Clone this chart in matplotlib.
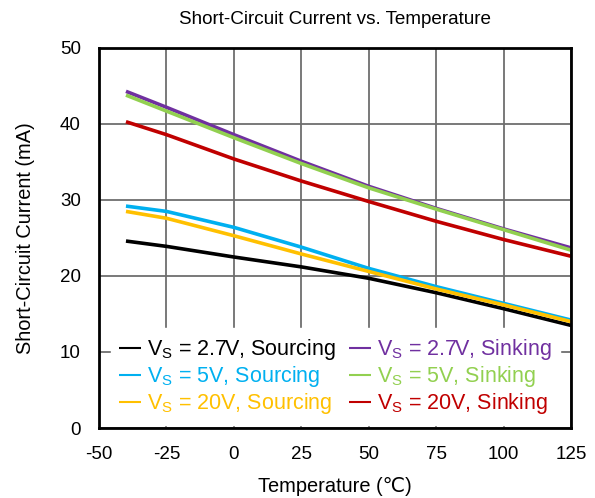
import matplotlib.pyplot as plt
import numpy as np

plt.rcParams['font.family'] = ['Liberation Sans', 'DejaVu Sans']
plt.rcParams['mathtext.default'] = 'regular'
plt.rcParams['axes.unicode_minus'] = False

temp = [-40, -25, 0, 25, 50, 75, 100, 125]

src_27 = [24.6, 23.9, 22.5, 21.2, 19.7, 17.8, 15.7, 13.5]
src_5 = [29.2, 28.5, 26.4, 23.8, 21.0, 18.6, 16.4, 14.2]
src_20 = [28.5, 27.6, 25.3, 22.9, 20.6, 18.3, 16.2, 14.0]
snk_27 = [44.3, 42.2, 38.6, 35.1, 31.8, 28.9, 26.2, 23.7]
snk_5 = [43.8, 41.7, 38.2, 34.8, 31.6, 28.8, 26.1, 23.4]
snk_20 = [40.3, 38.6, 35.4, 32.5, 29.8, 27.2, 24.8, 22.6]

series = [
    (src_27, "black", "V$_S$ = 2.7V, Sourcing"),
    (src_5, "#00b0f0", "V$_S$ = 5V, Sourcing"),
    (src_20, "#ffc000", "V$_S$ = 20V, Sourcing"),
    (snk_27, "#7030a0", "V$_S$ = 2.7V, Sinking"),
    (snk_5, "#92d050", "V$_S$ = 5V, Sinking"),
    (snk_20, "#c00000", "V$_S$ = 20V, Sinking"),
]

fig = plt.figure(figsize=(5.95, 4.98), dpi=100)
ax = fig.add_axes([99 / 595, 70 / 498, 472 / 595, 380 / 498])

for vals, col, lab in series:
    ax.plot(temp, vals, color=col, lw=2.6, label=lab, solid_capstyle="butt")

ax.set_xlim(-50, 125)
ax.set_ylim(0, 50)
ax.set_xticks(np.arange(-50, 126, 25))
ax.set_yticks(np.arange(0, 51, 10))
ax.grid(True, color="#6e6e6e", lw=1.3)
ax.tick_params(length=0, labelsize=13.5, pad=13)
for sp in ax.spines.values():
    sp.set_linewidth(2)
    sp.set_color("black")

ax.set_title("Short-Circuit Current vs. Temperature", fontsize=13.6, pad=17)
ax.set_xlabel("Temperature (\u2103)", fontsize=14.4, labelpad=10)
ax.set_ylabel("Short-Circuit Current (mA)", fontsize=14.4, labelpad=18)

leg = ax.legend(ncol=2, loc="lower left", bbox_to_anchor=(0.025, 0.008),
                borderaxespad=0, fontsize=15.5, frameon=True, fancybox=False,
                framealpha=1, edgecolor="white", handlelength=1.0,
                handletextpad=0.3, columnspacing=0.6, labelspacing=0.1,
                borderpad=0.4)
for txt, (_, col, _) in zip(leg.get_texts(), series):
    txt.set_color(col)
for h in leg.legend_handles:
    h.set_linewidth(1.5)

fig.savefig("out.png", dpi=100)
